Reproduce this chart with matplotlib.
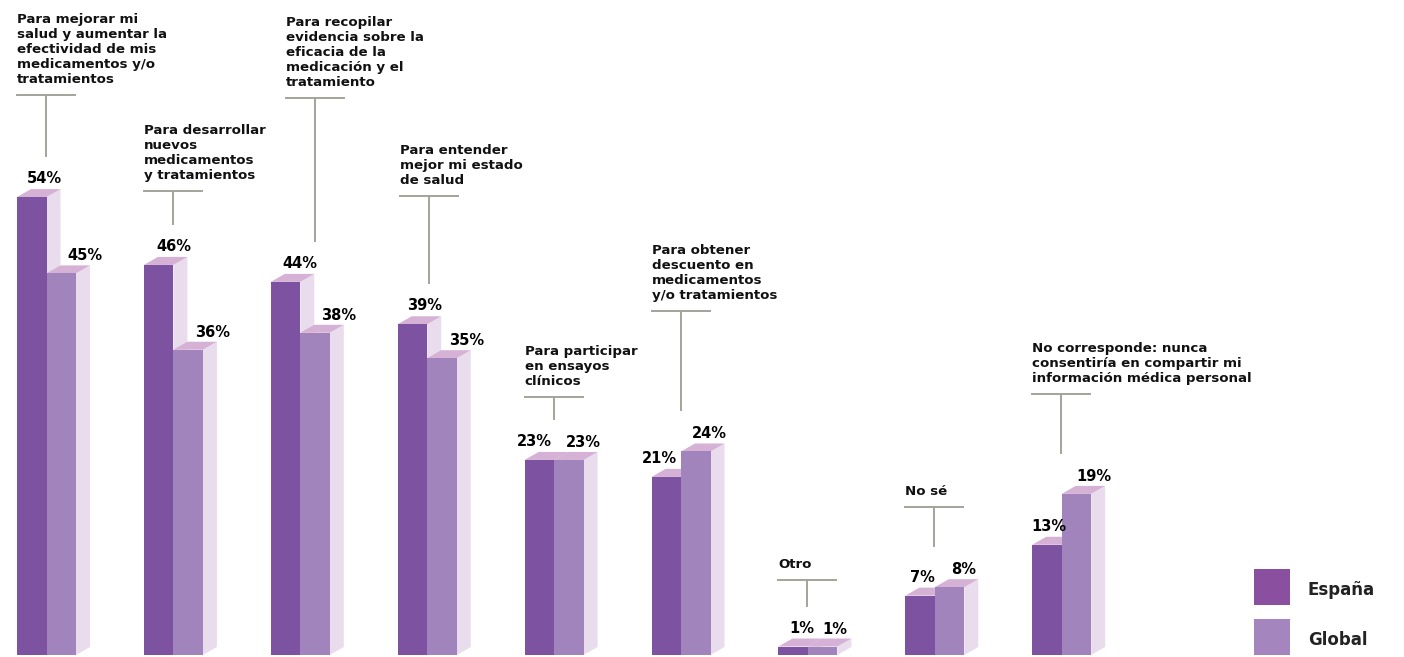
import matplotlib.pyplot as plt

# data
categorias = [
    "Para mejorar mi\nsalud y aumentar la\nefectividad de mis\nmedicamentos y/o\ntratamientos",
    "Para desarrollar\nnuevos\nmedicamentos\ny tratamientos",
    "Para recopilar\nevidencia sobre la\neficacia de la\nmedicación y el\ntratamiento",
    "Para entender\nmejor mi estado\nde salud",
    "Para participar\nen ensayos\nclínicos",
    "Para obtener\ndescuento en\nmedicamentos\ny/o tratamientos",
    "Otro",
    "No sé",
    "No corresponde: nunca\nconsentiría en compartir mi\ninformación médica personal",
]
espana = [54, 46, 44, 39, 23, 21, 1, 7, 13]
glob = [45, 36, 38, 35, 23, 24, 1, 8, 19]

# layout: leader line height (% units), label x nudges (px), value label nudges (px)
leader_y = [66.0, 54.7, 65.7, 54.1, 30.4, 40.6, 8.9, 17.4, 30.8]
label_dx = [0, 0, 15, 2, 0, 0, 0, 0, 0]
es_dx = [12.5, 15.5, 14.5, 12, -5, -7, 8.5, 2, 2]
gl_dx = [23.5, 24, 24, 25, 15, 14, 12, 14, 17]

C_ES = "#7d52a0"
C_GL = "#a184bc"
C_TOP = "#d6b1d6"
C_SIDE = "#e9dcec"
C_LINE = "#a3a39a"

PX_X = 126.9    # px per group
PX_Y = 8.48     # px per percent
W, H = 1404, 657

plt.rcParams["font.family"] = ["DejaVu Sans"]

fig = plt.figure(figsize=(W / 100, H / 100), dpi=100)
ax = fig.add_axes([0, 0, 1, 1])
ax.set_xlim(-17 / PX_X, (W - 17) / PX_X)
ax.set_ylim(-2 / PX_Y, (H - 2) / PX_Y)
ax.axis("off")

bw = 29.5 / PX_X
dx = 14 / PX_X
dy = 8 / PX_Y


def bar3d(x, v, color, z):
    x1 = x + bw
    ax.fill([x1, x1 + dx, x1 + dx, x1], [0, dy, v + dy, v], color=C_SIDE, lw=0, zorder=z)
    ax.fill([x, x1, x1 + dx, x + dx], [v, v, v + dy, v + dy], color=C_TOP, lw=0, zorder=z)
    ax.bar(x, v, width=bw, align="edge", color=color, lw=0, zorder=z + 0.5)


for i, (e, g) in enumerate(zip(espana, glob)):
    bar3d(i, e, C_ES, 2)
    bar3d(i + bw, g, C_GL, 3)
    ax.text(i + bw / 2 + es_dx[i] / PX_X, e + dy + 6 / PX_Y, f"{e}%", ha="center", va="baseline",
            fontsize=10.5, fontweight="bold", color="black", zorder=5)
    ax.text(i + bw * 1.5 + gl_dx[i] / PX_X, g + dy + 5 / PX_Y, f"{g}%", ha="center", va="baseline",
            fontsize=10.5, fontweight="bold", color="black", zorder=5)

    # leader and label
    lx = i + label_dx[i] / PX_X
    ly = leader_y[i]
    bottom = max(e, g) + dy + 33 / PX_Y
    ax.plot([lx, lx + 58 / PX_X], [ly, ly], color=C_LINE, lw=1.4, zorder=1)
    ax.plot([lx + 29 / PX_X] * 2, [ly, bottom], color=C_LINE, lw=1.4, zorder=1)
    ax.text(lx, ly + 12 / PX_Y, categorias[i], ha="left", va="baseline", fontsize=9.6,
            fontweight="bold", linespacing=1.2, color="#111111")

# legend
for k, (name, col) in enumerate([("España", "#8a4f9f"), ("Global", "#a485be")]):
    yc = (655 - 587 - 50 * k) / PX_Y
    ax.add_patch(plt.Rectangle(((1254 - 17) / PX_X, yc - 18 / PX_Y), 36 / PX_X, 36 / PX_Y,
                               color=col, lw=0))
    ax.text((1308 - 17) / PX_X, yc - 3 / PX_Y, name, ha="left", va="center", fontsize=12,
            fontweight="bold", color="#222222")

fig.savefig("out.png", dpi=100)
